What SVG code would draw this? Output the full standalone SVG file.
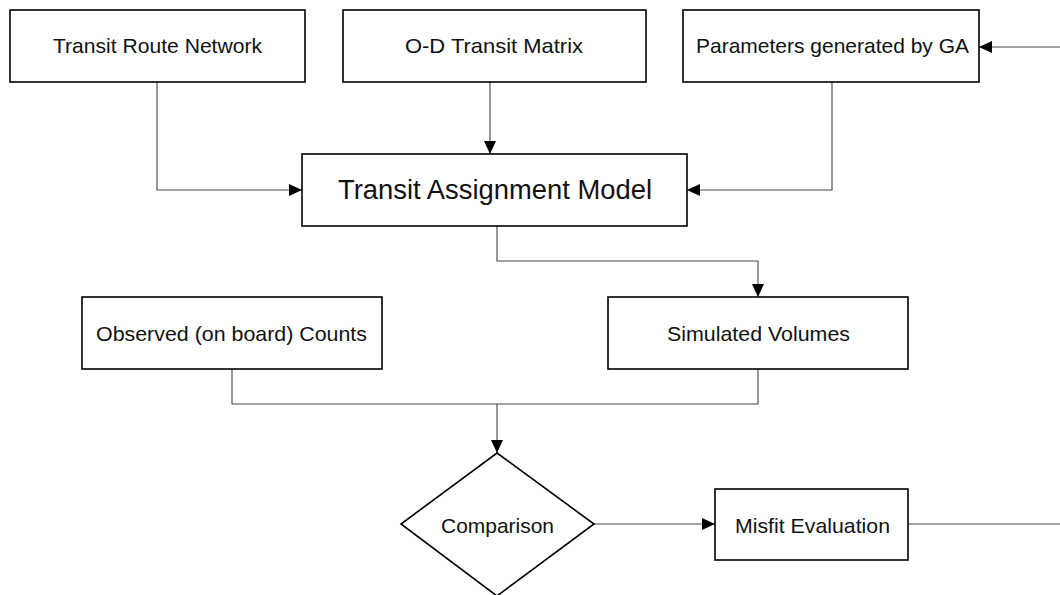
<svg xmlns="http://www.w3.org/2000/svg" width="1060" height="595" viewBox="0 0 1060 595">
  <style>
    .box { fill: #fff; stroke: #000; stroke-width: 1.6; }
    .lbl { font-family: "Liberation Sans", Arial, sans-serif; font-size: 21px; fill: #111; text-anchor: middle; }
    .big { font-size: 27px; }
    .wire { fill: none; stroke: #444; stroke-width: 1.1; }
  </style>
  <defs>
    <marker id="arrow" viewBox="0 0 13 12" refX="13" refY="6" markerWidth="13" markerHeight="12" markerUnits="userSpaceOnUse" orient="auto">
      <path d="M0,0 L13,6 L0,12 Z" fill="#000"/>
    </marker>
  </defs>
  <rect width="1060" height="595" fill="#fff"/>

  <!-- connectors -->
  <g id="connectors">
    <path class="wire" d="M157,82 V190 H302" marker-end="url(#arrow)"/>
    <path class="wire" d="M490,82 V154" marker-end="url(#arrow)"/>
    <path class="wire" d="M832,82 V190 H687" marker-end="url(#arrow)"/>
    <path class="wire" d="M1060,47 H979" marker-end="url(#arrow)"/>
    <path class="wire" d="M497,226 V261 H758 V297" marker-end="url(#arrow)"/>
    <path class="wire" d="M232,369 V404 H758 V369"/>
    <path class="wire" d="M497,404 V453" marker-end="url(#arrow)"/>
    <path class="wire" d="M594,524 H715" marker-end="url(#arrow)"/>
    <path class="wire" d="M908,524 H1060"/>
  </g>

  <g id="route-network">
    <rect class="box" x="10" y="10" width="295" height="72"/>
    <text class="lbl" x="157.5" y="53" textLength="209" lengthAdjust="spacingAndGlyphs">Transit Route Network</text>
  </g>
  <g id="od-matrix">
    <rect class="box" x="343" y="10" width="303" height="72"/>
    <text class="lbl" x="494" y="53" textLength="178" lengthAdjust="spacingAndGlyphs">O-D Transit Matrix</text>
  </g>
  <g id="ga-parameters">
    <rect class="box" x="683" y="10" width="296" height="72"/>
    <text class="lbl" x="832.5" y="53" textLength="273" lengthAdjust="spacingAndGlyphs">Parameters generated by GA</text>
  </g>
  <g id="assignment-model">
    <rect class="box" x="302" y="154" width="385" height="72"/>
    <text class="lbl big" x="495" y="199" textLength="314" lengthAdjust="spacingAndGlyphs">Transit Assignment Model</text>
  </g>
  <g id="observed-counts">
    <rect class="box" x="82" y="297" width="300" height="72"/>
    <text class="lbl" x="231.5" y="341" textLength="271" lengthAdjust="spacingAndGlyphs">Observed (on board) Counts</text>
  </g>
  <g id="simulated-volumes">
    <rect class="box" x="608" y="297" width="300" height="72"/>
    <text class="lbl" x="758.5" y="341" textLength="183" lengthAdjust="spacingAndGlyphs">Simulated Volumes</text>
  </g>
  <g id="comparison">
    <polygon class="box" points="497,453 594,524 497,596 401,524"/>
    <text class="lbl" x="497.5" y="533" textLength="113" lengthAdjust="spacingAndGlyphs">Comparison</text>
  </g>
  <g id="misfit-evaluation">
    <rect class="box" x="715" y="489" width="193" height="71"/>
    <text class="lbl" x="812.5" y="533" textLength="155" lengthAdjust="spacingAndGlyphs">Misfit Evaluation</text>
  </g>
</svg>
